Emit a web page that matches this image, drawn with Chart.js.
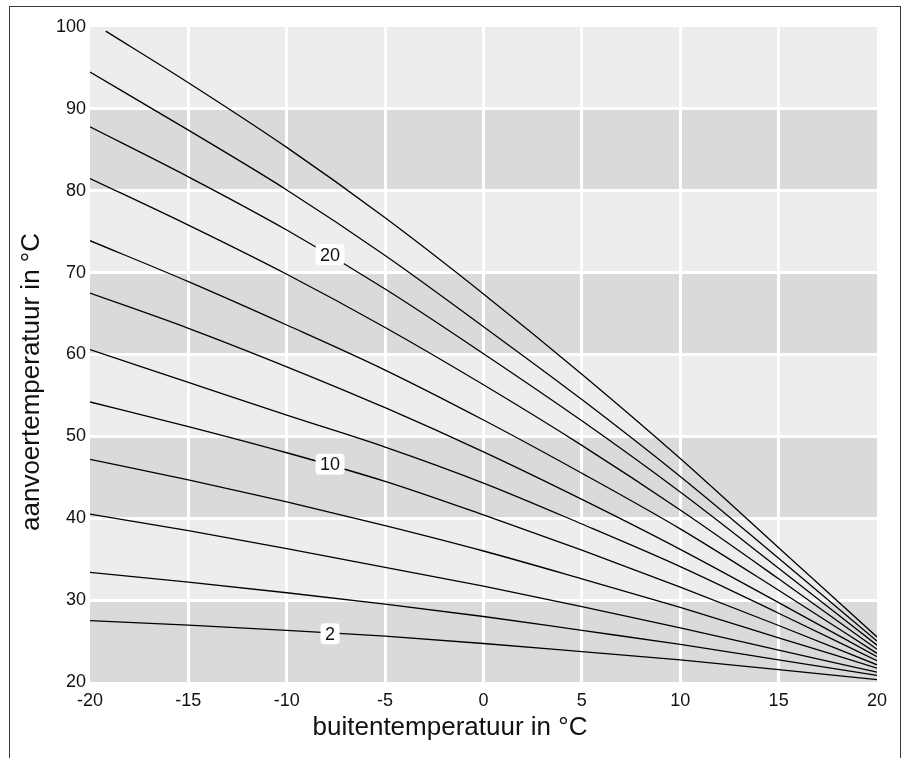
<!DOCTYPE html>
<html>
<head>
<meta charset="utf-8">
<script src="https://cdn.jsdelivr.net/npm/chart.js"></script>
<style>
  html, body { margin: 0; padding: 0; background: #fff; }
  #wrap { width: 909px; height: 758px; }
</style>
</head>
<body>
<div id="wrap"><canvas id="curves" width="909" height="758"></canvas></div>
<script>
// outdoor temperature (x) and flow temperature (y) of each heating curve
const outdoorTemp = [-20, -15, -10, -5, 0, 5, 10, 15, 20]
const topCurveStart = -19.2   // steepest curve starts just under 100

const curve24 = [99.5, 93.2, 85.3, 76.7, 67.4, 57.6, 47.3, 36.4, 25.5]
const curve22 = [94.5, 87.4, 80.1, 72.1, 63.4, 54.5, 45.1, 35.1, 25.0]
const curve20 = [87.8, 81.7, 75.2, 68.0, 60.1, 51.9, 43.2, 33.9, 24.5]
const curve18 = [81.5, 75.8, 69.8, 63.3, 56.3, 48.9, 41.0, 32.6, 24.0]
const curve16 = [73.9, 68.9, 63.6, 58.1, 52.0, 45.5, 38.7, 31.2, 23.5]
const curve14 = [67.5, 63.2, 58.5, 53.5, 48.1, 42.3, 36.2, 29.7, 23.1]
const curve12 = [60.6, 56.6, 52.6, 48.7, 44.3, 39.3, 34.1, 28.4, 22.6]
const curve10 = [54.2, 51.2, 48.0, 44.5, 40.4, 36.1, 31.6, 26.9, 22.1]
const curve8  = [47.2, 44.7, 42.0, 39.1, 36.0, 32.6, 29.1, 25.4, 21.7]
const curve6  = [40.5, 38.5, 36.3, 34.0, 31.7, 29.2, 26.6, 23.9, 21.2]
const curve4  = [33.4, 32.2, 30.9, 29.5, 28.0, 26.3, 24.6, 22.7, 20.8]
const curve2  = [27.5, 26.95, 26.3, 25.6, 24.7, 23.7, 22.7, 21.5, 20.3]

// curve numbers written on the chart
const labelText = ['20', '10', '2']
const labelX = [-7.8, -7.8, -7.8]
const labelY = [72.2, 46.6, 25.9]

// shaded horizontal bands [from, to]
const darkBands = [[20, 30], [40, 50], [60, 70], [80, 90]]

const xTitle = 'buitentemperatuur in °C'
const yTitle = 'aanvoertemperatuur in °C'

const FONT = "'Liberation Sans', Arial, Helvetica, sans-serif"

function toPoints(values, first){
    let pts = []
    values.forEach(function (v, i){
        const x = (i === 0 && first !== undefined) ? first : outdoorTemp[i]
        pts.push({x: x, y: v})
    })
    return pts
}

const allCurves = [curve24, curve22, curve20, curve18, curve16, curve14,
                   curve12, curve10, curve8, curve6, curve4, curve2]

let datasets = []
allCurves.forEach(function (c, k){
    datasets.push({
        data: toPoints(c, k === 0 ? topCurveStart : undefined),
        borderColor: '#000',
        borderWidth: 1.3,
        pointRadius: 0,
        fill: false,
        cubicInterpolationMode: 'monotone'
    })
})

// grey bands behind the grid + the outer frame
const bandsPlugin = {
    id: 'bands',
    beforeDraw(chart){
        const {ctx, chartArea: a, scales: {y}} = chart
        ctx.save()
        ctx.strokeStyle = '#3a3a3a'
        ctx.lineWidth = 1
        ctx.strokeRect(9.5, 6.5, 891, 770)
        ctx.fillStyle = '#ecedec'
        ctx.fillRect(a.left, a.top, a.right - a.left, a.bottom - a.top)
        ctx.fillStyle = '#d9dadb'
        darkBands.forEach(function (b){
            const y0 = y.getPixelForValue(b[1])
            const y1 = y.getPixelForValue(b[0])
            ctx.fillRect(a.left, y0, a.right - a.left, y1 - y0)
        })
        ctx.restore()
    }
}

// white boxes with the curve numbers
const curveLabels = {
    id: 'curveLabels',
    afterDatasetsDraw(chart){
        const {ctx, scales: {x, y}} = chart
        ctx.save()
        ctx.font = '18px ' + FONT
        ctx.textAlign = 'center'
        ctx.textBaseline = 'middle'
        labelText.forEach(function (t, i){
            const px = x.getPixelForValue(labelX[i])
            const py = y.getPixelForValue(labelY[i])
            const w = ctx.measureText(t).width + 9
            ctx.fillStyle = '#fff'
            ctx.beginPath()
            ctx.roundRect(px - w / 2, py - 10.5, w, 21, 4)
            ctx.fill()
            ctx.fillStyle = '#111'
            ctx.fillText(t, px, py + 1)
        })
        ctx.restore()
    }
}

// axis titles, centred on the frame rather than on the plot
const axisTitles = {
    id: 'axisTitles',
    afterDraw(chart){
        const {ctx} = chart
        ctx.save()
        ctx.font = '26px ' + FONT
        ctx.fillStyle = '#111'
        ctx.textAlign = 'center'
        ctx.textBaseline = 'middle'
        ctx.fillText(xTitle, 450, 728)
        ctx.translate(32, 382)
        ctx.rotate(-Math.PI / 2)
        ctx.fillText(yTitle, 0, 0)
        ctx.restore()
    }
}

function gridColor(min, max){
    return function (c){
        if (!c.tick) return '#fff'
        return (c.tick.value === min || c.tick.value === max) ? 'rgba(0,0,0,0)' : '#fff'
    }
}

new Chart(document.getElementById('curves'), {
    type: 'line',
    data: {datasets: datasets},
    plugins: [bandsPlugin, curveLabels, axisTitles],
    options: {
        responsive: false,
        animation: false,
        layout: {padding: {top: 27, right: 32, bottom: 0, left: 0}},
        plugins: {
            legend: {display: false},
            tooltip: {enabled: false}
        },
        scales: {
            x: {
                type: 'linear',
                min: -20,
                max: 20,
                afterFit(scale){ scale.height = 76 },
                grid: {color: gridColor(-20, 20), lineWidth: 3, drawTicks: false},
                border: {display: false},
                ticks: {
                    stepSize: 5,
                    padding: 8,
                    color: '#111',
                    font: {family: FONT, size: 18}
                }
            },
            y: {
                min: 20,
                max: 100,
                afterFit(scale){ scale.width = 90 },
                grid: {color: gridColor(20, 100), lineWidth: 3, drawTicks: false},
                border: {display: false},
                ticks: {
                    stepSize: 10,
                    padding: 4,
                    color: '#111',
                    font: {family: FONT, size: 18}
                }
            }
        }
    }
})
</script>
</body>
</html>
